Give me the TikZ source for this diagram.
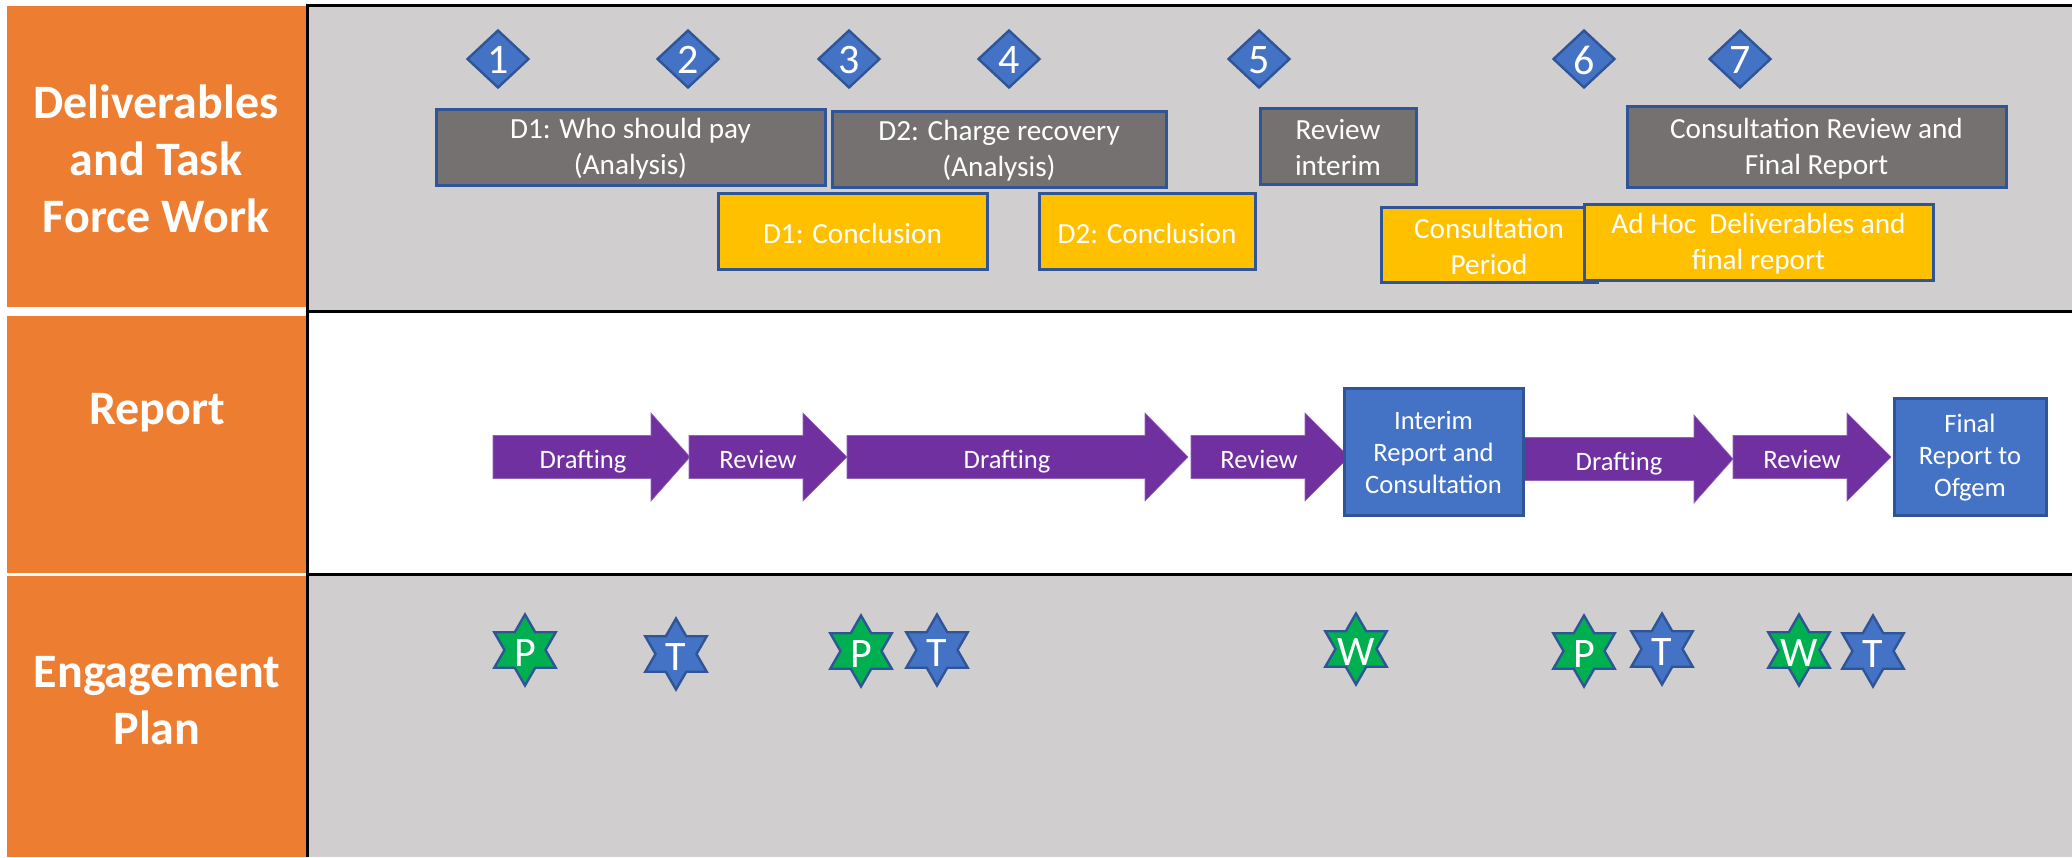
\documentclass[tikz,border=0pt]{standalone}
\usepackage{fontspec}
\setmainfont{Carlito}
\usetikzlibrary{shapes.geometric}
\definecolor{orangeband}{HTML}{ED7D31}
\definecolor{panelgray}{HTML}{D0CECE}
\definecolor{taskgray}{HTML}{767171}
\definecolor{gold}{HTML}{FFC000}
\definecolor{bluefill}{HTML}{4472C4}
\definecolor{blueedge}{HTML}{2F5597}
\definecolor{greenfill}{HTML}{00B050}
\definecolor{purplefill}{HTML}{7030A0}
\tikzset{
  x=0.5pt,y=-0.5pt,
  band/.style={fill=orangeband,draw=none},
  bandtext/.style={text=white,align=center,font=\fontsize{24pt}{28.5pt}\selectfont\bfseries},
  rule/.style={draw=black,line width=1.5pt},
  boxtext/.style={text=white,align=center,font=\fontsize{14.6pt}{18pt}\selectfont},
  bluetext/.style={text=white,align=center,font=\fontsize{13.3pt}{16.2pt}\selectfont},
  taskbox/.style={draw=blueedge,line width=1.5pt,fill=taskgray},
  goldbox/.style={draw=blueedge,line width=1.5pt,fill=gold},
  bluebox/.style={draw=blueedge,line width=1.5pt,fill=bluefill},
  arrowbody/.style={fill=purplefill,draw=purplefill!75!white,line width=0.3pt},
  arrowtext/.style={text=white,text height=0.68em,text depth=0.2em,font=\fontsize{13.3pt}{16pt}\selectfont},
  milestone/.style={diamond,draw=blueedge,line width=1.2pt,fill=bluefill,minimum width=31pt,minimum height=29pt,inner sep=0pt},
  bigchar/.style={text=white,inner sep=0pt,font=\fontsize{21pt}{24pt}\selectfont},
  sixstar/.style={star,star points=6,star point ratio=1.732,draw=blueedge,line width=1.2pt,minimum size=35.5pt,inner sep=0pt},
  greenstar/.style={sixstar,fill=greenfill},
  bluestar/.style={sixstar,fill=bluefill},
}
\newcommand{\taskrect}[7]{% name, style, x0, y0, x1, y1, text
  \path[#2] (#3,#4) rectangle (#5,#6);
  \node[boxtext] (#1) at ({(#3+#5)/2},{(#4+#6)/2+2}) {#7};
}
\newcommand{\bluerect}[7]{% name, style, x0, y0, x1, y1, text
  \path[#2] (#3,#4) rectangle (#5,#6);
  \node[bluetext] (#1) at ({(#3+#5)/2},{(#4+#6)/2+1}) {#7};
}
\newcommand{\flowarrow}[9]{% name, x0, xbase, xtip, ymid, half shaft, half head, textx, text
  \path[arrowbody] (#2,#5-#6) -- (#3,#5-#6) -- (#3,#5-#7) -- (#4,#5) -- (#3,#5+#7) -- (#3,#5+#6) -- (#2,#5+#6) -- cycle;
  \node[arrowtext] (#1) at (#8,#5+7) {#9};
}
\newcommand{\mstone}[3]{% name, x, text
  \node[milestone] (#1) at (#2,59) {};
  \node[bigchar] (#1t) at (#2,60) {#3};
}
\newcommand{\starmark}[5]{% name, style, x, y, text
  \node[#2] (#1) at (#3,#4) {};
  \node[bigchar] (#1t) at (#3,#4+3) {#5};
}
\begin{document}
\begin{tikzpicture}
\useasboundingbox (0,0) rectangle (2072,857);
\fill[white] (0,0) rectangle (2072,857);
% panels
\fill[panelgray] (306,5) rectangle (2072,311);
\fill[panelgray] (306,575) rectangle (2072,857);
% orange bands
\path[band] (7,6) rectangle (306,307);
\path[band] (7,316) rectangle (306,573);
\path[band] (7,576) rectangle (306,857);
\node[bandtext] (bandA) at (156,159) {Deliverables\\and Task\\Force Work};
\node[bandtext] (bandB) at (157,413) {Report};
\node[bandtext] (bandC) at (157,701) {Engagement\\Plan};
% rules
\draw[rule] (307,5) -- (2072,5);
\draw[rule] (307,311) -- (2072,311);
\draw[rule] (307,574) -- (2072,574);
\draw[rule] (307,4) -- (307,857);
% milestones
\mstone{mA}{498}{1}
\mstone{mB}{688}{2}
\mstone{mC}{849}{3}
\mstone{mD}{1009}{4}
\mstone{mE}{1259}{5}
\mstone{mF}{1584}{6}
\mstone{mG}{1740}{7}
% tasks
\taskrect{tA}{taskbox}{436}{109}{825}{185}{D1: Who should pay\\(Analysis)}
\taskrect{tB}{taskbox}{832}{111}{1166}{187}{D2: Charge recovery\\(Analysis)}
\taskrect{tC}{goldbox}{718}{193}{987}{269}{D1: Conclusion}
\taskrect{tD}{goldbox}{1039}{193}{1255}{269}{D2: Conclusion}
\taskrect{tE}{taskbox}{1260}{108}{1416}{184}{Review\\interim}
\taskrect{tF}{taskbox}{1627}{106}{2006}{187}{Consultation Review and\\Final Report}
\taskrect{tG}{goldbox}{1381}{207}{1597}{282}{Consultation\\Period}
\taskrect{tH}{goldbox}{1584}{204}{1933}{280}{Ad Hoc\ \ Deliverables and\\final report}
% report arrows
\flowarrow{aA}{493}{651}{690}{457}{21.5}{44}{583}{Drafting}
\flowarrow{aB}{689}{803}{847}{457}{21.5}{44}{758}{Review}
\flowarrow{aC}{847}{1145}{1188}{457}{21.5}{44}{1007}{Drafting}
\flowarrow{aD}{1191}{1305}{1349}{457}{21.5}{44}{1259}{Review}
\flowarrow{aE}{1522}{1694}{1733}{459}{21.5}{44}{1619}{Drafting}
\flowarrow{aF}{1733}{1847}{1891}{457}{21.5}{44}{1802}{Review}
\bluerect{rA}{bluebox}{1344}{388}{1523}{515}{Interim\\Report and\\Consultation}
\bluerect{rB}{bluebox}{1894}{398}{2046}{515}{Final\\Report to\\Ofgem}
% engagement stars
\starmark{sA}{greenstar}{525}{650}{P}
\starmark{sB}{bluestar}{676}{654}{T}
\starmark{sC}{greenstar}{861}{651}{P}
\starmark{sD}{bluestar}{937}{650}{T}
\starmark{sE}{greenstar}{1356}{649}{W}
\starmark{sF}{greenstar}{1584}{651}{P}
\starmark{sG}{bluestar}{1662}{649}{T}
\starmark{sH}{greenstar}{1799}{650}{W}
\starmark{sI}{bluestar}{1873}{651}{T}
\end{tikzpicture}
\end{document}
